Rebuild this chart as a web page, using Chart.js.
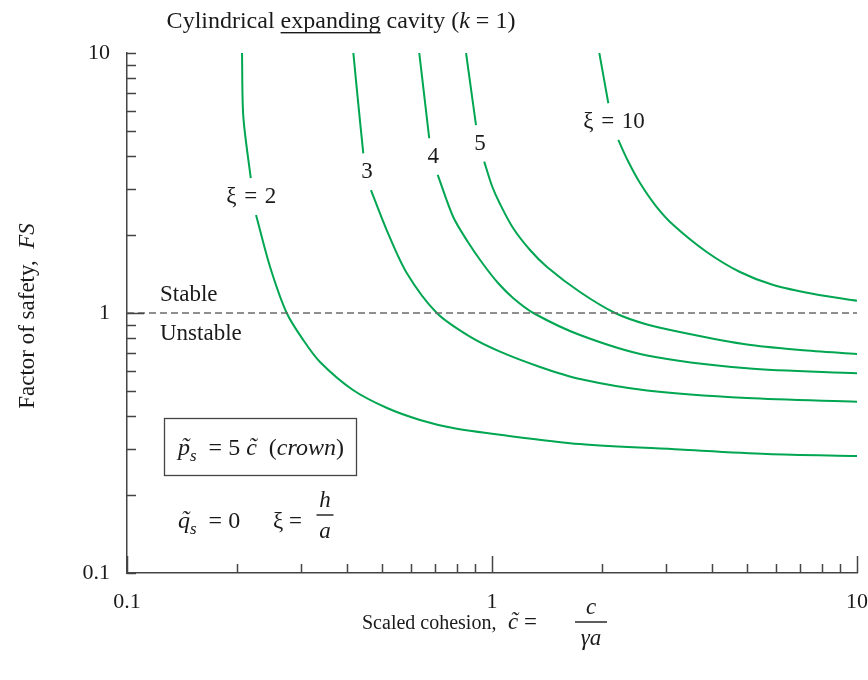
<!DOCTYPE html>
<html>
<head>
<meta charset="utf-8">
<script src="https://cdn.jsdelivr.net/npm/chart.js@4.4.1/dist/chart.umd.min.js"></script>
<style>
    html, body { margin: 0; padding: 0; background: #ffffff; }
    #wrap { width: 868px; height: 680px; }
</style>
</head>
<body>
<div id="wrap"><canvas id="fsChart" width="868" height="680"></canvas></div>
<script>
    // ---------------- Axis ticks ---------------------------------------------
    const LOG_TICKS   = [ 0.1, 0.2, 0.3, 0.4, 0.5, 0.6, 0.7, 0.8, 0.9,
                          1, 2, 3, 4, 5, 6, 7, 8, 9, 10 ] ;
    const MAJOR_TICKS = [ 0.1, 1, 10 ] ;

    // ---------------- Curves: scaled cohesion vs factor of safety ------------
    // null FS leaves the gap where the curve label sits
    const xi2Cohesion = [ 0.2066, 0.2083, 0.2183, 0.222, 0.2257, 0.2465, 0.2739, 0.304, 0.3379, 0.416, 0.5158, 0.635, 0.782, 1.052, 1.742, 3.27, 5.67, 10 ] ;
    const xi2FS       = [ 10,     5.69,   3.30,   null,  2.38,   1.507,  1.0,    0.787, 0.648,  0.5056, 0.431, 0.3878, 0.361, 0.340, 0.3133, 0.2985, 0.287, 0.2818 ] ;

    const xi3Cohesion = [ 0.417, 0.430, 0.444, 0.455, 0.466, 0.5146, 0.584, 0.706, 0.870, 1.052, 1.354, 1.742, 2.659, 4.996, 10 ] ;
    const xi3FS       = [ 10,    6.41,  4.11,  null,  2.97,  2.085,  1.425, 1.0,   0.811, 0.710, 0.620, 0.5573, 0.5035, 0.471, 0.456 ] ;

    const xi4Cohesion = [ 0.632, 0.673, 0.69, 0.710, 0.783, 0.859, 0.945, 1.039, 1.142, 1.298, 1.742, 2.659, 4.996, 10 ] ;
    const xi4FS       = [ 10,    4.70,  null, 3.40,  2.34,  1.876, 1.543, 1.304, 1.142, 1.0,   0.823, 0.6865, 0.613, 0.586 ] ;

    const xi5Cohesion = [ 0.849, 0.904, 0.93, 0.952, 1.0,  1.052, 1.142, 1.271, 1.415, 1.742, 2.173, 2.659, 3.27, 4.996, 6.98, 10 ] ;
    const xi5FS       = [ 10,    5.28,  null, 3.82,  3.08, 2.626, 2.123, 1.747, 1.503, 1.204, 1.0,   0.903, 0.845, 0.756, 0.721, 0.696 ] ;

    const xi10Cohesion = [ 1.968, 2.083, 2.15, 2.218, 2.358, 2.544, 2.813, 3.139, 3.875, 4.78, 5.90, 7.62, 10 ] ;
    const xi10FS       = [ 10,    6.41,  null, 4.63,  3.842, 3.162, 2.579, 2.180, 1.717, 1.438, 1.281, 1.183, 1.115 ] ;

    // stable / unstable boundary
    const boundaryCohesion = [ 0.1, 10 ] ;
    const boundaryFS       = [ 1, 1 ] ;

    // curve labels and where they sit (cohesion, FS)
    const XI_LABELS   = [ 'ξ\u200A = \u200A2', '3', '4', '5', 'ξ\u200A = \u200A10' ] ;
    const XI_LABEL_AT = [ [0.219, 2.79], [0.4546, 3.49], [0.690, 3.98], [0.927, 4.47], [2.16, 5.43] ] ;

    // ---------------- Styles -------------------------------------------------
    const SERIF = '"Liberation Serif", "Times New Roman", serif' ;
    const GREEN = '#00a651' ;
    const INK   = '#1a1a1a' ;
    const AXIS  = '#444444' ;

    Chart.defaults.font.family = SERIF ;
    Chart.defaults.font.size = 22 ;
    Chart.defaults.color = INK ;

    function toPoints( xs, ys ) {
        return xs.map( function( x, i ) { return { x: x, y: ys[i] } ; } ) ;
    }

    function curveDataset( name, xs, ys ) {
        return {
            label       : name,
            data        : toPoints( xs, ys ),
            borderColor : GREEN,
            borderWidth : 2,
            pointRadius : 0,
            spanGaps    : false,
            tension     : 0.3,
            fill        : false
        } ;
    }

    // ---------------- Rich text helper ---------------------------------------
    // runs: { t, it: italic, sub: subscript, ul: underline, tilde: tilde accent }
    function runFont( r, size ) {
        return ( r.it ? 'italic ' : '' ) + ( r.sub ? Math.round( size * 0.72 ) : size ) + 'px ' + SERIF ;
    }

    function drawRuns( ctx, runs, x, y, align, size ) {
        size = size || 20 ;
        var total = 0 ;
        runs.forEach( function( r ) {
            ctx.font = runFont( r, size ) ;
            r.w = ctx.measureText( r.t ).width ;
            total += r.w ;
        } ) ;
        var cx = ( align === 'center' ) ? x - total / 2 : x ;
        ctx.textAlign = 'left' ;
        ctx.textBaseline = 'alphabetic' ;
        runs.forEach( function( r ) {
            ctx.font = runFont( r, size ) ;
            ctx.fillText( r.t, cx, r.sub ? y + size * 0.25 : y ) ;
            if( r.ul ) {
                ctx.fillRect( cx, y + 4, r.w, 1.4 ) ;
            }
            if( r.tilde ) {
                var tw = ctx.measureText( '˜' ).width ;
                ctx.fillText( '˜', cx + ( r.w - tw ) / 2 + 1, y - 1 ) ;
            }
            cx += r.w ;
        } ) ;
    }

    function drawFraction( ctx, top, bottom, cx, barY, barW, size ) {
        ctx.font = 'italic ' + size + 'px ' + SERIF ;
        ctx.textAlign = 'center' ;
        ctx.textBaseline = 'alphabetic' ;
        ctx.fillText( top, cx, barY - 8 ) ;
        ctx.fillText( bottom, cx, barY + size ) ;
        ctx.fillRect( cx - barW / 2, barY - 0.7, barW, 1.4 ) ;
    }

    // ---------------- Plugins ------------------------------------------------
    const insideTicks = {
        id: 'insideTicks',
        afterDraw: function( chart ) {
            const ctx = chart.ctx ;
            const area = chart.chartArea ;
            const xs = chart.scales.x ;
            const ys = chart.scales.y ;

            ctx.save() ;
            ctx.strokeStyle = AXIS ;
            ctx.lineWidth = 1.5 ;
            ctx.beginPath() ;
            xs.ticks.forEach( function( t ) {
                const px = Math.round( xs.getPixelForValue( t.value ) ) + 0.5 ;
                const len = MAJOR_TICKS.indexOf( t.value ) >= 0 ? 17 : 9 ;
                ctx.moveTo( px, area.bottom ) ;
                ctx.lineTo( px, area.bottom - len ) ;
            } ) ;
            ys.ticks.forEach( function( t ) {
                const py = Math.round( ys.getPixelForValue( t.value ) ) + 0.5 ;
                const len = t.value === 1 ? 17 : 9 ;
                ctx.moveTo( area.left, py ) ;
                ctx.lineTo( area.left + len, py ) ;
            } ) ;
            ctx.stroke() ;
            ctx.restore() ;
        }
    } ;

    const annotations = {
        id: 'annotations',
        afterDraw: function( chart ) {
            const ctx = chart.ctx ;
            const area = chart.chartArea ;
            const xs = chart.scales.x ;
            const ys = chart.scales.y ;

            ctx.save() ;
            ctx.fillStyle = INK ;

            // title
            drawRuns( ctx, [
                { t: 'Cylindrical ' },
                { t: 'expanding', ul: true },
                { t: ' cavity (' },
                { t: 'k', it: true },
                { t: ' = 1)' }
            ], 341, 28, 'center', 24 ) ;

            // y axis title
            ctx.save() ;
            ctx.translate( 34, 316 ) ;
            ctx.rotate( -Math.PI / 2 ) ;
            drawRuns( ctx, [ { t: 'Factor of safety,  ' }, { t: 'FS', it: true } ], 0, 0, 'center', 23 ) ;
            ctx.restore() ;

            // x axis title
            drawRuns( ctx, [ { t: 'Scaled cohesion,' } ], 362, 629, 'left', 20 ) ;
            drawRuns( ctx, [ { t: 'c', it: true, tilde: true }, { t: ' = ' } ], 508, 629, 'left', 23 ) ;
            drawFraction( ctx, 'c', 'γa', 591, 622, 32, 23 ) ;

            // curve labels
            ctx.font = '23px ' + SERIF ;
            ctx.textAlign = 'center' ;
            ctx.textBaseline = 'middle' ;
            XI_LABELS.forEach( function( txt, i ) {
                ctx.fillText( txt,
                              xs.getPixelForValue( XI_LABEL_AT[i][0] ),
                              ys.getPixelForValue( XI_LABEL_AT[i][1] ) ) ;
            } ) ;

            // stable / unstable
            ctx.textAlign = 'left' ;
            ctx.fillText( 'Stable',   area.left + 33, ys.getPixelForValue( 1 ) - 18 ) ;
            ctx.fillText( 'Unstable', area.left + 33, ys.getPixelForValue( 1 ) + 21 ) ;

            // loading box
            ctx.strokeStyle = AXIS ;
            ctx.lineWidth = 1.3 ;
            ctx.strokeRect( area.left + 37.5, 418.5, 192, 57 ) ;
            drawRuns( ctx, [
                { t: 'p', it: true, tilde: true },
                { t: 's', it: true, sub: true },
                { t: '  = 5 ' },
                { t: 'c', it: true, tilde: true },
                { t: '  (' },
                { t: 'crown', it: true },
                { t: ')' }
            ], area.left + 51, 455, 'left', 24 ) ;

            drawRuns( ctx, [
                { t: 'q', it: true, tilde: true },
                { t: 's', it: true, sub: true },
                { t: '  = 0' }
            ], area.left + 51, 528, 'left', 24 ) ;
            drawRuns( ctx, [ { t: 'ξ = ' } ], area.left + 146, 528, 'left', 23 ) ;
            drawFraction( ctx, 'h', 'a', area.left + 198, 515, 17, 23 ) ;

            ctx.restore() ;
        }
    } ;

    // ---------------- Chart --------------------------------------------------
    function logScale( position, padding, fitFn ) {
        return {
            type     : 'logarithmic',
            position : position,
            min      : 0.1,
            max      : 10,
            afterBuildTicks: function( scale ) {
                scale.ticks = LOG_TICKS.map( function( v ) { return { value: v } ; } ) ;
            },
            afterFit : fitFn,
            ticks : {
                autoSkip    : false,
                maxRotation : 0,
                padding     : padding,
                color       : INK,
                font        : { family: SERIF, size: 22 },
                callback    : function( value ) {
                    return MAJOR_TICKS.indexOf( value ) >= 0 ? String( value ) : '' ;
                }
            },
            grid : {
                display         : true,
                drawOnChartArea : false,
                drawTicks       : false
            },
            border : { display: true, color: AXIS, width: 1.5 }
        } ;
    }

    const datasets = [
        {
            label       : 'FS = 1',
            data        : toPoints( boundaryCohesion, boundaryFS ),
            borderColor : '#6b6b6b',
            borderWidth : 1.5,
            borderDash  : [ 7, 4 ],
            pointRadius : 0,
            fill        : false
        },
        curveDataset( 'ξ = 2',  xi2Cohesion,  xi2FS ),
        curveDataset( 'ξ = 3',  xi3Cohesion,  xi3FS ),
        curveDataset( 'ξ = 4',  xi4Cohesion,  xi4FS ),
        curveDataset( 'ξ = 5',  xi5Cohesion,  xi5FS ),
        curveDataset( 'ξ = 10', xi10Cohesion, xi10FS )
    ] ;

    new Chart( document.getElementById( 'fsChart' ), {
        type : 'line',
        data : { datasets: datasets },
        options : {
            responsive : false,
            animation  : false,
            devicePixelRatio : 1,
            layout : { padding: { top: 53, right: 11, left: 0, bottom: 0 } },
            plugins : {
                legend  : { display: false },
                tooltip : { enabled: false }
            },
            scales : {
                x : logScale( 'bottom', 16, function( scale ) {
                    scale.height = 107 ;
                    scale.paddingLeft = 0 ;
                    scale.paddingRight = 0 ;
                } ),
                y : logScale( 'left', 17, function( scale ) {
                    scale.width = 127 ;
                    scale.paddingTop = 0 ;
                    scale.paddingBottom = 0 ;
                } )
            }
        },
        plugins : [ insideTicks, annotations ]
    } ) ;
</script>
</body>
</html>
